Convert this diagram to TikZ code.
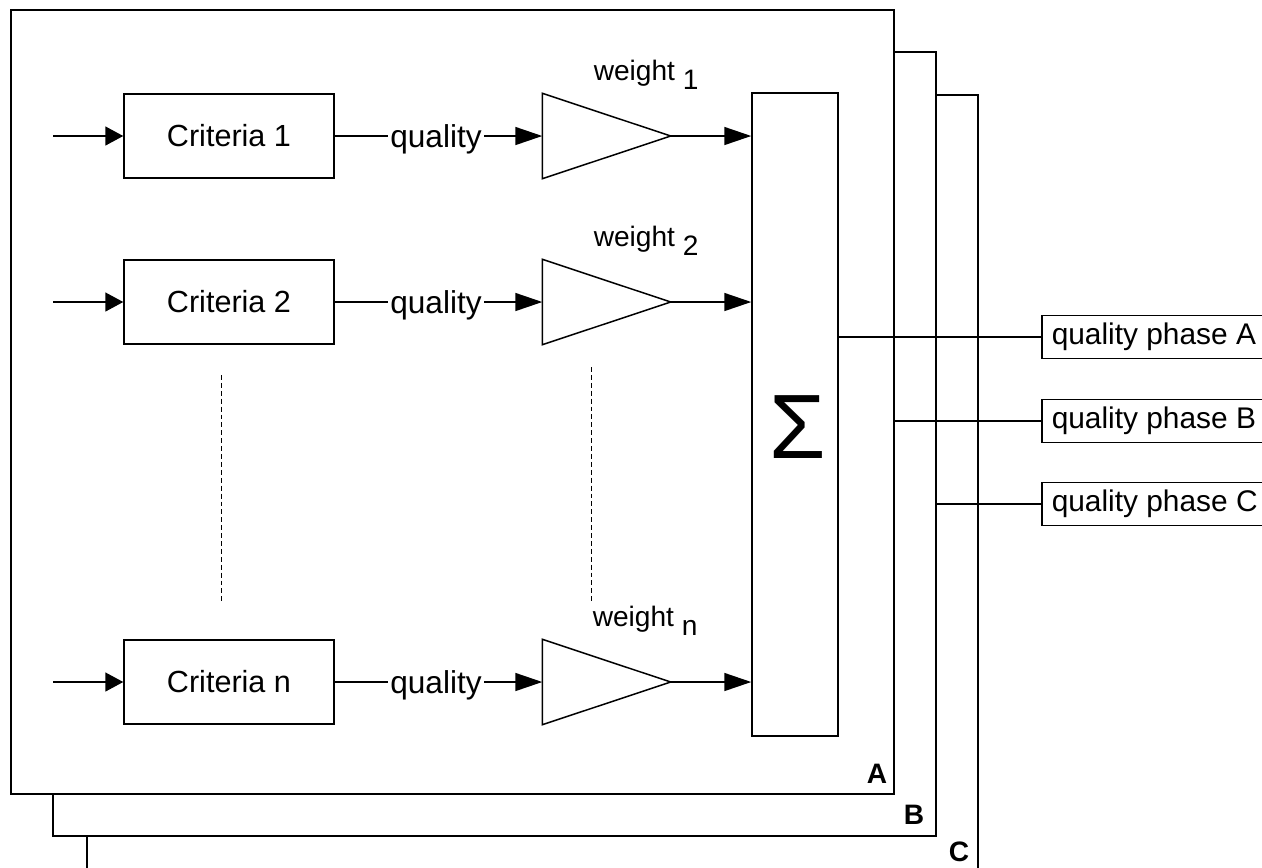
\documentclass[tikz,border=0pt]{standalone}
\usepackage{fontspec}
\setmainfont{Liberation Sans}
\usetikzlibrary{arrows.meta}
\tikzset{
  frame/.style={draw, fill=white, inner sep=0pt, minimum width=17.66cm, minimum height=15.68cm},
  tag/.style={anchor=south east, inner sep=0pt, font=\bfseries\fontsize{16}{19}\selectfont},
  block/.style={draw, minimum width=4.2cm, minimum height=1.68cm, font=\fontsize{17.4}{20}\selectfont},
  qlabel/.style={inner sep=1pt, text depth=0pt, font=\fontsize{18}{21}\selectfont},
  amp/.style={inner sep=0pt, minimum width=2.54cm, minimum height=1.68cm},
  wlabel/.style={anchor=base west, inner sep=0pt, font=\fontsize{16}{19}\selectfont},
  outbox/.style={draw, anchor=west, inner xsep=0.2cm, minimum height=0.86cm},
  inarrow/.style={-{Triangle[length=0.36cm,width=0.38cm]}},
  sigarrow/.style={-{Triangle[length=0.54cm,width=0.36cm]}},
  guide/.style={line width=0.5pt, dash pattern=on 2.8pt off 1.7pt}
}
\begin{document}
\begin{tikzpicture}[x=0.02cm, y=-0.02cm, line width=0.85pt, font=\fontsize{17}{20}\selectfont]
\useasboundingbox (0,0) rectangle (1262,867);
% stacked frames, back to front
\node[frame, minimum width=17.82cm, minimum height=15.7cm] (frameC) at (532.5,487.5) {};
\node[frame] (frameB) at (494.5,444) {};
\node[frame] (frameA) at (452.5,402) {};
\node[tag] (tagA) at (888,784) {A};
\node[tag] (tagB) at (925,825) {B};
\node[tag] (tagC) at (970,863) {C};
% criteria
\coordinate (in1) at (53,136);
\coordinate (in2) at (53,302);
\coordinate (inn) at (53,682);
\node[block] (crit1) at (229,136) {Criteria 1};
\node[block] (crit2) at (229,302) {Criteria 2};
\node[block] (critn) at (229,682) {Criteria n};
\node[qlabel] (q1) at (436,136) {quality};
\node[qlabel] (q2) at (436,302) {quality};
\node[qlabel] (qn) at (436,682) {quality};
% weights
\node[amp] (amp1) at (606.5,136) {};
\node[amp] (amp2) at (606.5,302) {};
\node[amp] (ampn) at (606.5,682) {};
\draw (amp1.north west) -- (amp1.east) -- (amp1.south west) -- cycle;
\draw (amp2.north west) -- (amp2.east) -- (amp2.south west) -- cycle;
\draw (ampn.north west) -- (ampn.east) -- (ampn.south west) -- cycle;
\node[wlabel] (w1) at (593,80) {weight \raisebox{-0.35em}{1}};
\node[wlabel] (w2) at (593,246) {weight \raisebox{-0.35em}{2}};
\node[wlabel] (wn) at (592,626) {weight \raisebox{-0.35em}{n}};
\draw[guide] (221,375) -- (221,602);
\draw[guide] (591,367) -- (591,602);
% sum
\node[draw, minimum width=1.72cm, minimum height=12.86cm] (sum) at (795,414.5) {};
\node[inner sep=0pt, font=\fontsize{52}{52}\selectfont] (sigma) at (798,427) {Σ};
\draw[inarrow] (in1) -- (crit1);
\draw[inarrow] (in2) -- (crit2);
\draw[inarrow] (inn) -- (critn);
\draw (crit1) -- (q1);
\draw (crit2) -- (q2);
\draw (critn) -- (qn);
\draw[sigarrow] (q1) -- (amp1.west);
\draw[sigarrow] (q2) -- (amp2.west);
\draw[sigarrow] (qn) -- (ampn.west);
\draw[sigarrow] (amp1.east) -- (sum.west |- amp1.east);
\draw[sigarrow] (amp2.east) -- (sum.west |- amp2.east);
\draw[sigarrow] (ampn.east) -- (sum.west |- ampn.east);
% outputs
\node[outbox] (outA) at (1041,337) {quality phase A};
\node[outbox] (outB) at (1041,421) {quality phase B};
\node[outbox] (outC) at (1041,504) {quality phase C};
\draw (sum.east |- outA.west) -- (outA.west);
\draw (frameA.east |- outB.west) -- (outB.west);
\draw (frameB.east |- outC.west) -- (outC.west);
\end{tikzpicture}
\end{document}
